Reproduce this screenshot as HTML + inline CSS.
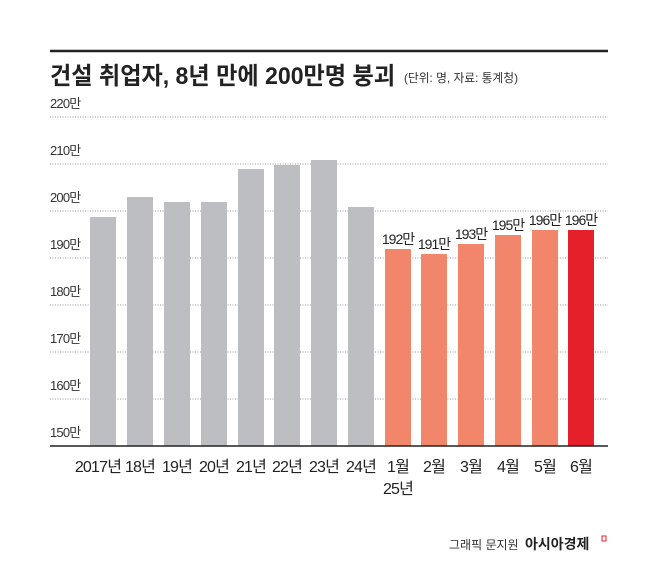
<!DOCTYPE html>
<html><head><meta charset="utf-8"><style>
body{margin:0;background:#fff;width:658px;height:575px;overflow:hidden}
svg text{font-family:"Liberation Sans","Noto Sans CJK KR",sans-serif}
</style></head><body>
<svg width="658" height="575" viewBox="0 0 658 575">
<line x1="50" y1="51" x2="608" y2="51" stroke="#222" stroke-width="2.5"/>
<text x="50" y="84" font-size="24" font-weight="bold" fill="#222" textLength="345" lengthAdjust="spacingAndGlyphs">건설 취업자, 8년 만에 200만명 붕괴</text>
<text x="404" y="82" font-size="12" fill="#333" textLength="114" lengthAdjust="spacingAndGlyphs">(단위: 명, 자료: 통계청)</text>
<g stroke="#999" stroke-width="1" stroke-dasharray="1,1.5">
<line x1="50" y1="117" x2="608" y2="117"/><line x1="50" y1="164" x2="608" y2="164"/>
<line x1="50" y1="211" x2="608" y2="211"/><line x1="50" y1="258" x2="608" y2="258"/>
<line x1="50" y1="305" x2="608" y2="305"/><line x1="50" y1="352" x2="608" y2="352"/>
<line x1="50" y1="399" x2="608" y2="399"/>
</g>
<g font-size="13" fill="#333" letter-spacing="-0.8">
<text x="50" y="108">220만</text><text x="50" y="155">210만</text><text x="50" y="202">200만</text>
<text x="50" y="249">190만</text><text x="50" y="296">180만</text><text x="50" y="343">170만</text>
<text x="50" y="390">160만</text><text x="50" y="437">150만</text>
</g>
<g fill="#bdbec1">
<rect x="90" y="217" width="26" height="229"/><rect x="127" y="197" width="26" height="249"/>
<rect x="164" y="202" width="26" height="244"/><rect x="201" y="202" width="26" height="244"/>
<rect x="238" y="169" width="26" height="277"/><rect x="274" y="165" width="26" height="281"/>
<rect x="311" y="160" width="26" height="286"/><rect x="348" y="207" width="26" height="239"/>
</g>
<g fill="#f1866b">
<rect x="385" y="249" width="26" height="197"/><rect x="421" y="254" width="26" height="192"/>
<rect x="458" y="244" width="26" height="202"/><rect x="495" y="235" width="26" height="211"/>
<rect x="532" y="230" width="26" height="216"/>
</g>
<rect x="568" y="230" width="26" height="216" fill="#e5202b"/>
<g font-size="14" fill="#222" text-anchor="middle" letter-spacing="-1">
<text x="398" y="244">192만</text><text x="434" y="249">191만</text><text x="471" y="239">193만</text>
<text x="508" y="230">195만</text><text x="545" y="225">196만</text><text x="581" y="225">196만</text>
</g>
<line x1="50" y1="446" x2="608" y2="446" stroke="#222" stroke-width="1.5"/>
<g font-size="16" fill="#222" text-anchor="middle" letter-spacing="-0.8">
<text x="98" y="472">2017년</text><text x="140" y="472">18년</text><text x="177" y="472">19년</text>
<text x="214" y="472">20년</text><text x="251" y="472">21년</text><text x="287" y="472">22년</text>
<text x="324" y="472">23년</text><text x="361" y="472">24년</text><text x="398" y="472">1월</text>
<text x="398" y="494">25년</text><text x="434" y="472">2월</text><text x="471" y="472">3월</text>
<text x="508" y="472">4월</text><text x="545" y="472">5월</text><text x="581" y="472">6월</text>
</g>
<text x="449" y="549" font-size="12" fill="#333">그래픽 문지원</text>
<text x="525" y="549" font-size="14" font-weight="bold" fill="#222">아시아경제</text>
<rect x="602" y="536" width="4" height="5" fill="none" stroke="#e5202b" stroke-width="1"/>
</svg>
</body></html>
